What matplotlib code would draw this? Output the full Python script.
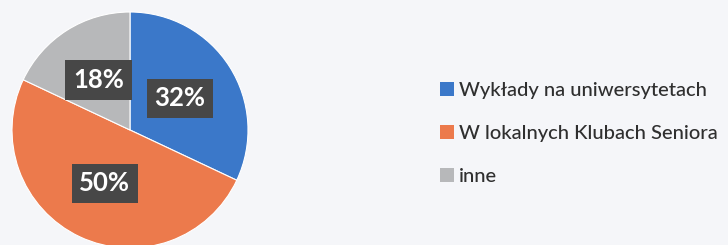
import matplotlib.pyplot as plt

labels = ["Wykłady na uniwersytetach", "W lokalnych Klubach Seniora", "inne"]
values = [32, 50, 18]
colors = ["#3b78c9", "#ec7a4c", "#b7b8ba"]

fig = plt.figure(figsize=(7.28, 2.45), dpi=100)
fig.patch.set_facecolor("#f5f6f9")

# pie centre ~ (130,130) px, radius ~118 px
ax = fig.add_axes([12 / 728, -3 / 245, 236 / 728, 236 / 245])
wedges, texts, autotexts = ax.pie(
    values, colors=colors, startangle=90, counterclock=False,
    autopct="%d%%", pctdistance=0.5,
    wedgeprops=dict(edgecolor="white", linewidth=0.8))
ax.set_xlim(-1, 1)
ax.set_ylim(-1, 1)
ax.set_aspect("equal")

for t in autotexts:
    t.set_color("white")
    t.set_fontsize(18.5)
    t.set_fontweight("bold")
    t.set_family("Lato")
    t.set_bbox(dict(boxstyle="square,pad=0.3", facecolor="#474747",
                    edgecolor="none"))

leg = fig.legend(wedges, labels, loc="center left",
                 bbox_to_anchor=(422 / 728, 0.455), frameon=False,
                 handlelength=0.7, handleheight=0.7, handletextpad=0.25,
                 labelspacing=1.3, prop=dict(family="Lato", size=14.5,
                                             weight="medium"))
for t in leg.get_texts():
    t.set_color("#2f2f2f")
for h in leg.legend_handles:
    h.set_edgecolor("none")

fig.savefig("out.png", dpi=100, facecolor=fig.get_facecolor())
